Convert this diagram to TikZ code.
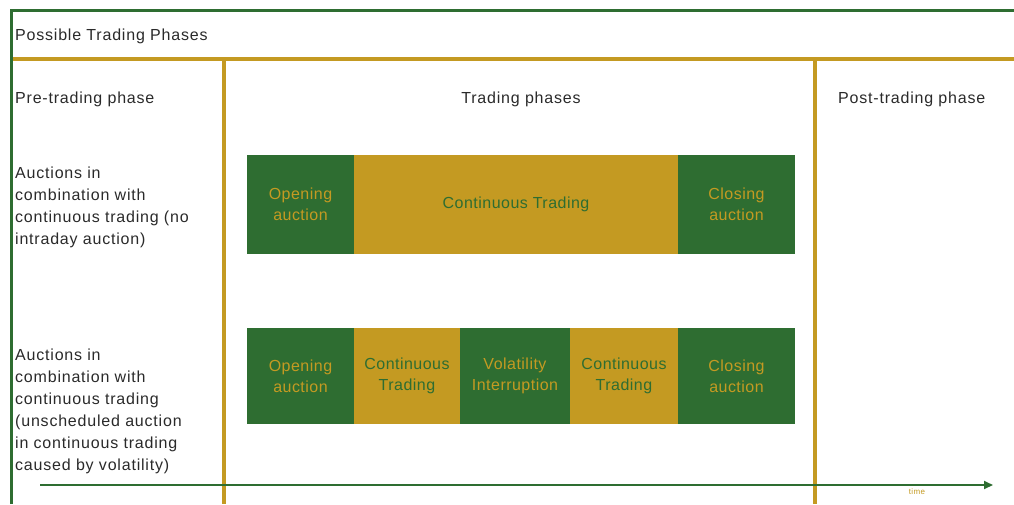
\documentclass[tikz,border=0pt]{standalone}
\usepackage{fontspec}
\setmainfont[LetterSpace=5]{Liberation Sans}
\newfontfamily\boxfont[LetterSpace=3]{Liberation Sans}
\usetikzlibrary{arrows.meta}
\definecolor{tgreen}{HTML}{2E6D31}
\definecolor{tgold}{HTML}{C49A22}
\definecolor{ttext}{HTML}{2A2A2A}
\tikzset{
  gbox/.style={fill=tgreen,draw=none,text=tgold,align=center,inner sep=0pt,font=\boxfont\fontsize{16}{21}\selectfont},
  ybox/.style={fill=tgold,draw=none,text=tgreen,align=center,inner sep=0pt,font=\boxfont\fontsize{16}{21}\selectfont},
  lbl/.style={text=ttext,inner sep=0pt,font=\fontsize{16}{22}\selectfont},
  frameg/.style={draw=tgreen,line width=3pt},
  framey/.style={draw=tgold,line width=3.5pt},
}
\begin{document}
\begin{tikzpicture}[x=1pt,y=-1pt]
\useasboundingbox (0,0) rectangle (1014,504);
% frame
\draw[framey] (11,59) -- (1014,59);
\draw[framey] (224,59) -- (224,504);
\draw[framey] (815,59) -- (815,504);
\draw[frameg] (11,504) -- (11,10) -- (1014,10);
% headers
\node[lbl,anchor=west] (title) at (15,36) {Possible Trading Phases};
\node[lbl,anchor=west] (pre) at (15,99) {Pre-trading phase};
\node[lbl] (trad) at (521,99) {Trading phases};
\node[lbl,anchor=west] (post) at (838,99) {Post-trading phase};
% left descriptions
\node[lbl,anchor=north west,align=left] (d1) at (15,167) {Auctions in\\combination with\\continuous trading (no\\intraday auction)};
\node[lbl,anchor=north west,align=left] (d2) at (15,349) {Auctions in\\combination with\\continuous trading\\(unscheduled auction\\in continuous trading\\caused by volatility)};
% row 1
\node[gbox,minimum width=107pt,minimum height=99pt] (o1) at (300.5,204.5) {Opening\\auction};
\node[ybox,minimum width=324pt,minimum height=99pt] (c1) at (516,204.5) {Continuous Trading};
\node[gbox,minimum width=117pt,minimum height=99pt] (e1) at (736.5,204.5) {Closing\\auction};
% row 2
\node[gbox,minimum width=107pt,minimum height=96pt] (o2) at (300.5,376) {Opening\\auction};
\node[ybox,minimum width=106pt,minimum height=96pt] (c2) at (407,376) {Continuous\\Trading};
\node[gbox,minimum width=110pt,minimum height=96pt] (v2) at (515,376) {Volatility\\Interruption};
\node[ybox,minimum width=108pt,minimum height=96pt] (c3) at (624,376) {Continuous\\Trading};
\node[gbox,minimum width=117pt,minimum height=96pt] (e2) at (736.5,376) {Closing\\auction};
% time axis
\coordinate (t0) at (40,485);
\coordinate (t1) at (993,485);
\draw[draw=tgreen,line width=1.8pt,-{Triangle[length=9pt,width=8pt]}] (t0) -- (t1);
\node[text=tgold,inner sep=0pt,font=\fontsize{8}{9}\selectfont] (time) at (917,492) {time};
\end{tikzpicture}
\end{document}
